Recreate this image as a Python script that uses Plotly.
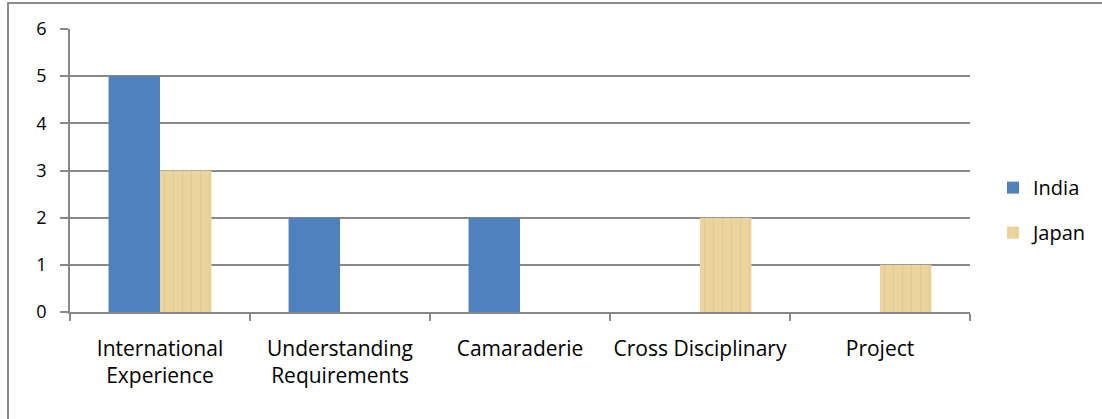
import plotly.graph_objects as go

categories = ["International<br>Experience", "Understanding<br>Requirements", "Camaraderie", "Cross Disciplinary", "Project"]
india = [5, 2, 2, 0, 0]
japan = [3, 0, 0, 2, 1]
y_ticks = [0, 1, 2, 3, 4, 5, 6]

FONT = "Open Sans"
GRID = "#888888"
PAPER_W = 1102 - 70  # paper width with l=70, r=0
DOM = 900 / PAPER_W

fig = go.Figure()
fig.add_trace(go.Bar(x=categories, y=india, name="India", legendgroup="a",
                     marker=dict(color="#4F81BD", line=dict(width=0))))
fig.add_trace(go.Bar(x=categories, y=japan, name="Japan", legendgroup="b",
                     marker=dict(color="#EBD39E", line=dict(width=0),
                                 pattern=dict(shape="|", bgcolor="#ECD49F", fgcolor="#DCC085",
                                              size=9, solidity=0.15))))

fig.update_layout(
    width=1102, height=419,
    margin=dict(l=70, r=0, t=29, b=107),
    paper_bgcolor="white", plot_bgcolor="white",
    barmode="group", bargap=0.4286, bargroupgap=0,
    font=dict(family=FONT, size=20, color="#000000"),
    showlegend=True,
    legend=dict(x=(993 - 70) / PAPER_W, y=0.36, xanchor="left", yanchor="middle",
                font=dict(family=FONT, size=20, color="#000000"),
                tracegroupgap=16, traceorder="grouped",
                bgcolor="rgba(0,0,0,0)"),
    xaxis=dict(type="category", domain=[0, DOM], tickson="boundaries", ticks="outside", ticklen=7,
               tickcolor=GRID, tickwidth=1.5, showline=True, linecolor=GRID, linewidth=1.5,
               showgrid=False, ticklabelstandoff=17, tickangle=0, automargin=False,
               tickfont=dict(family=FONT, size=21, color="#000000")),
    yaxis=dict(range=[0, 6], tickvals=y_ticks, ticks="outside", ticklen=8,
               tickcolor=GRID, tickwidth=1.5, showline=True, linecolor=GRID, linewidth=1.5,
               showgrid=True, gridcolor=GRID, gridwidth=1.5, zeroline=False,
               ticklabelstandoff=10, automargin=False,
               tickfont=dict(family=FONT, size=18, color="#000000")),
    shapes=[dict(type="rect", xref="paper", yref="paper",
                 x0=(8 - 70) / PAPER_W, x1=1.5, y0=-0.8, y1=1.092,
                 line=dict(color="#8C8C8C", width=2), layer="below")],
)

fig.write_html("out.html", config={"displayModeBar": False},
               post_script="document.body.style.margin='0px';")
